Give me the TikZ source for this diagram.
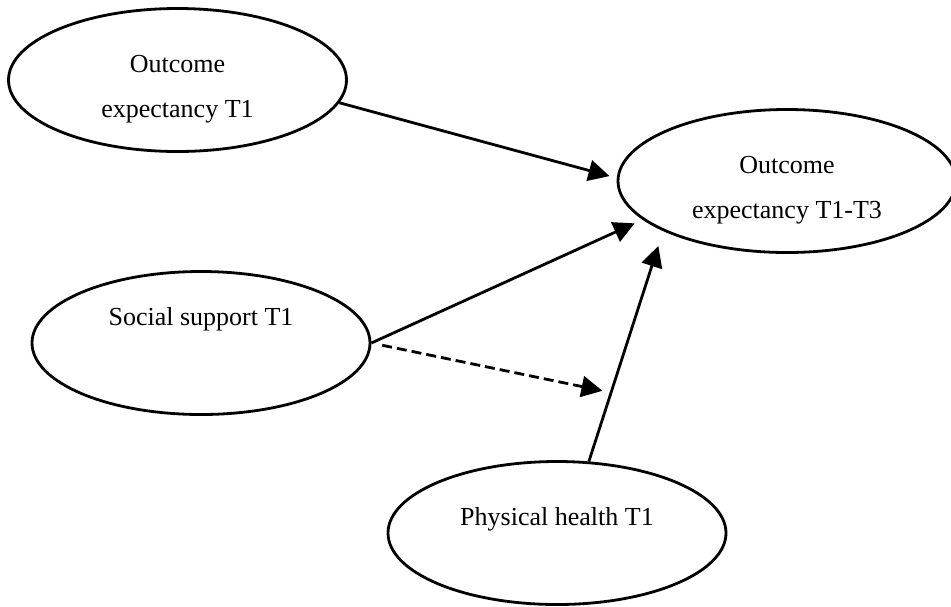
\documentclass[tikz,border=0pt]{standalone}
\usepackage{fontspec}
\setmainfont{Liberation Serif}
\usepackage{tikz}
\usetikzlibrary{arrows.meta,positioning,shapes.geometric}

\begin{document}
\begin{tikzpicture}[->,>={Triangle[length=10.5pt,width=10.5pt]},line width=1.4pt,on grid,
  var node/.style={ellipse,draw,inner sep=0pt,minimum width=169pt,minimum height=71.5pt,
    align=center,font=\fontsize{13}{22.5}\selectfont},
  two line/.style={text height=39pt,text depth=2pt}]
  \useasboundingbox (-88.75pt,40pt) rectangle (386.75pt,-263pt);
  \node[var node,two line] (1) {Outcome\\expectancy T1};
  \node[var node,two line] (2) [below right=50.5pt and 304.75pt of 1] {Outcome\\expectancy T1-T3};
  \node[var node,text depth=27pt] (3) [below right=131.5pt and 11.75pt of 1] {Social support T1};
  \node[var node,text depth=17pt] (4) [below right=95pt and 178pt of 3] {Physical health T1};

  % point on the health path where the dashed arrow aims
  \path (4.66) -- (2.202) coordinate[pos=0.2987] (m);

  \path
    (1.-8) edge [shorten >=3.75pt] (2.179)
    (3.east) edge [shorten >=4.4pt] (2.195)
    (4.66) edge [shorten >=7.8pt] (2.202)
    (3.east) edge [dash pattern=on 5pt off 2.5pt,shorten <=5.5pt,shorten >=4.4pt] (m);
\end{tikzpicture}
\end{document}
